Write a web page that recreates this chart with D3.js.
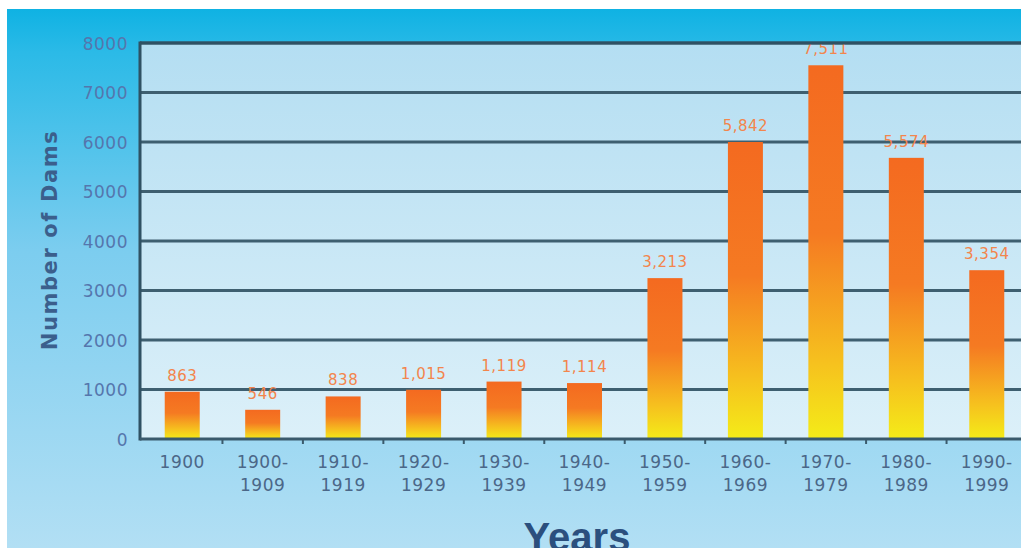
<!DOCTYPE html>
<html>
<head>
<meta charset="utf-8">
<script src="https://cdn.jsdelivr.net/npm/d3@7"></script>
<style>
	body { margin: 0; background: #fff; }
	svg { display: block; }
</style>
</head>
<body>
<script>
// decades on the x axis (two text lines each)
var periods = ["1900", "1900-1909", "1910-1919", "1920-1929", "1930-1939", "1940-1949",
	"1950-1959", "1960-1969", "1970-1979", "1980-1989", "1990-1999"];
// bar heights as drawn in the picture
var damCounts = [955, 590, 860, 995, 1160, 1130, 3250, 6000, 7550, 5680, 3410];
// the printed numbers above the bars
var countLabels = ["863", "546", "838", "1,015", "1,119", "1,114", "3,213", "5,842", "7,511", "5,574", "3,354"];
var yTicks = [0, 1000, 2000, 3000, 4000, 5000, 6000, 7000, 8000];

var width = 1021, height = 548;
var plotLeft = 140, plotRight = 1021, plotTop = 43, plotBottom = 439;

var svg = d3.select("body").append("svg")
	.attr("width", width).attr("height", height);

var defs = svg.append("defs");

var bg = defs.append("linearGradient").attr("id", "bg")
	.attr("x1", 0).attr("y1", 0).attr("x2", 0).attr("y2", 1);
bg.append("stop").attr("offset", 0).attr("stop-color", "#0fb2e3");
bg.append("stop").attr("offset", 0.08).attr("stop-color", "#2bbae7");
bg.append("stop").attr("offset", 0.45).attr("stop-color", "#7ccdef");
bg.append("stop").attr("offset", 1).attr("stop-color", "#b2dff4");

var plotBg = defs.append("linearGradient").attr("id", "plotBg")
	.attr("x1", 0).attr("y1", 0).attr("x2", 0).attr("y2", 1);
plotBg.append("stop").attr("offset", 0).attr("stop-color", "#b4def2");
plotBg.append("stop").attr("offset", 1).attr("stop-color", "#dcf0f9");

var barFill = defs.append("linearGradient").attr("id", "barFill")
	.attr("x1", 0).attr("y1", 0).attr("x2", 0).attr("y2", 1);
barFill.append("stop").attr("offset", 0).attr("stop-color", "#f46a20");
barFill.append("stop").attr("offset", 0.45).attr("stop-color", "#f57a22");
barFill.append("stop").attr("offset", 0.8).attr("stop-color", "#f6c21e");
barFill.append("stop").attr("offset", 1).attr("stop-color", "#f4ec18");

// backdrop (white edge at top/left as in the scan)
svg.append("rect").attr("x", 7).attr("y", 9)
	.attr("width", width - 7).attr("height", height - 9)
	.attr("fill", "url(#bg)");

svg.append("rect").attr("x", plotLeft).attr("y", plotTop)
	.attr("width", plotRight - plotLeft).attr("height", plotBottom - plotTop)
	.attr("fill", "url(#plotBg)");

var x = d3.scaleBand()
	.domain(periods)
	.range([142, 1027])
	.paddingInner(0.565)
	.paddingOuter(0.2825);

var y = d3.scaleLinear()
	.domain([0, 8000])
	.range([plotBottom, plotTop]);

// grid lines
svg.append("g").selectAll("line")
	.data(yTicks.filter(d => d > 0))
	.enter().append("line")
	.attr("x1", plotLeft).attr("x2", plotRight)
	.attr("y1", d => y(d)).attr("y2", d => y(d))
	.attr("stroke", "#3e5f70").attr("stroke-width", 3);

// y axis labels
var yAxis = svg.append("g")
	.attr("transform", "translate(" + plotLeft + ",0)")
	.call(d3.axisLeft(y).tickValues(yTicks).tickFormat(d3.format("d")).tickSize(0).tickPadding(12));
yAxis.select(".domain").remove();
yAxis.selectAll("text")
	.attr("font-family", "DejaVu Sans, sans-serif")
	.attr("font-size", 17)
	.attr("letter-spacing", 0.5)
	.attr("fill", "#5576ad")
	.attr("dy", "0.36em");

// bars
svg.append("g").selectAll("rect")
	.data(damCounts)
	.enter().append("rect")
	.attr("x", (d, i) => x(periods[i]))
	.attr("y", d => y(d))
	.attr("width", x.bandwidth())
	.attr("height", d => plotBottom - y(d))
	.attr("fill", "url(#barFill)");

// value labels
svg.append("g").selectAll("text")
	.data(countLabels)
	.enter().append("text")
	.attr("x", (d, i) => x(periods[i]) + x.bandwidth() / 2)
	.attr("y", (d, i) => y(damCounts[i]) - 11)
	.attr("text-anchor", "middle")
	.attr("font-family", "DejaVu Sans, sans-serif")
	.attr("font-size", 15)
	.attr("letter-spacing", 0.5)
	.attr("fill", "#f3854c")
	.text(d => d);

// axis frame
svg.append("line").attr("x1", plotLeft).attr("x2", plotRight).attr("y1", plotTop).attr("y2", plotTop)
	.attr("stroke", "#2f5163").attr("stroke-width", 3);
svg.append("line").attr("x1", plotLeft).attr("x2", plotLeft).attr("y1", plotTop - 1.5).attr("y2", plotBottom + 1.5)
	.attr("stroke", "#2f5163").attr("stroke-width", 3);
svg.append("line").attr("x1", plotLeft).attr("x2", plotRight).attr("y1", plotBottom).attr("y2", plotBottom)
	.attr("stroke", "#3a5a6c").attr("stroke-width", 3);

// little ticks between the bars
var step = x.step();
svg.append("g").selectAll("line")
	.data(periods)
	.enter().append("line")
	.attr("x1", d => x(d) + x.bandwidth() / 2 + step / 2)
	.attr("x2", d => x(d) + x.bandwidth() / 2 + step / 2)
	.attr("y1", plotBottom).attr("y2", plotBottom + 5)
	.attr("stroke", "#3a5a6c").attr("stroke-width", 2);

// x labels, split on the dash
var xl = svg.append("g").selectAll("text")
	.data(periods)
	.enter().append("text")
	.attr("x", d => x(d) + x.bandwidth() / 2)
	.attr("y", 468)
	.attr("text-anchor", "middle")
	.attr("font-family", "DejaVu Sans, sans-serif")
	.attr("font-size", 17)
	.attr("letter-spacing", 0.5)
	.attr("fill", "#4b6788");
xl.each(function(d) {
	var parts = d.split("-");
	var t = d3.select(this);
	t.append("tspan").attr("x", t.attr("x")).text(parts.length > 1 ? parts[0] + "-" : parts[0]);
	if (parts.length > 1) {
		t.append("tspan").attr("x", t.attr("x")).attr("dy", 23).text(parts[1]);
	}
});

// axis titles
svg.append("text")
	.attr("transform", "translate(57,240) rotate(-90)")
	.attr("text-anchor", "middle")
	.attr("font-family", "DejaVu Sans, sans-serif")
	.attr("font-weight", "bold")
	.attr("font-size", 21)
	.attr("letter-spacing", 1.6)
	.attr("fill", "#3b5f8c")
	.text("Number of Dams");

svg.append("text")
	.attr("x", 577).attr("y", 551)
	.attr("text-anchor", "middle")
	.attr("font-family", "Liberation Sans, Arial, sans-serif")
	.attr("font-weight", "bold")
	.attr("font-size", 40)
	.attr("fill", "#2b4f7e")
	.text("Years");
</script>
</body>
</html>
